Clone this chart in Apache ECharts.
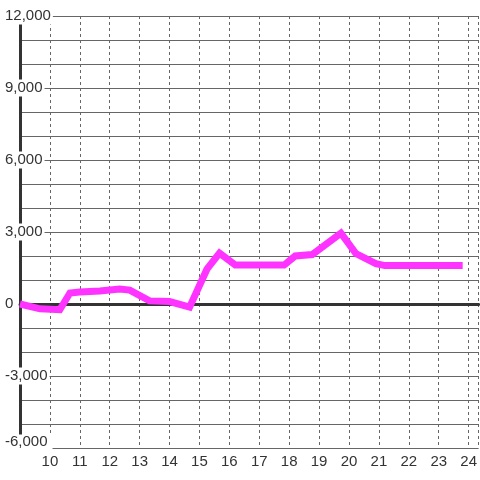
<!DOCTYPE html>
<html>
<head>
<meta charset="utf-8">
<script src="https://cdn.jsdelivr.net/npm/echarts@6/dist/echarts.min.js"></script>
<style>
html,body{margin:0;padding:0;background:#fff;}
#c{width:480px;height:480px;}
</style>
</head>
<body>
<div id="c"></div>
<script>
// Data (x = hour of day, y = value)
var times  = [9.0, 9.67, 10.33, 10.67, 11.0, 11.67, 12.33, 12.67, 13.33, 14.0, 14.67, 15.25, 15.67, 16.2, 17.83, 18.2, 18.77, 19.73, 20.23, 20.9, 21.2, 23.8];
var values = [0, -200, -240, 460, 500, 540, 620, 580, 130, 100, -130, 1450, 2120, 1620, 1620, 2000, 2060, 2950, 2100, 1680, 1600, 1600];
var xTickLabels = [10, 11, 12, 13, 14, 15, 16, 17, 18, 19, 20, 21, 22, 23, 24];
var yTickLabels = [-6000, -3000, 0, 3000, 6000, 9000, 12000];

var seriesData = times.map(function (t, i) { return [t, values[i]]; });
var FONT = 'Liberation Sans, Arial, sans-serif';

var chart = echarts.init(document.getElementById('c'), null, {renderer: 'canvas'});
chart.setOption({
  animation: false,
  backgroundColor: '#ffffff',
  grid: {left: 20, right: 0, top: 16, bottom: 32, containLabel: false},
  xAxis: [{
    type: 'value',
    min: 9,
    max: 9 + 460 / 30,
    interval: 1,
    axisLine: {show: false, onZero: false},
    axisTick: {show: false},
    axisLabel: {
      color: '#333', fontSize: 15, fontFamily: FONT, margin: 6,
      showMaxLabel: false,
      formatter: function (v) {
        return xTickLabels.indexOf(Math.round(v * 1000) / 1000) >= 0 ? String(v) : '';
      }
    },
    splitLine: {show: true, lineStyle: {color: '#666', width: 1, type: [3, 3]}}
  }, {
    type: 'value',
    position: 'top',
    min: 9,
    max: 9 + 460 / 30,
    interval: 1,
    axisLine: {show: true, onZero: true, onZeroAxisIndex: 0, lineStyle: {color: '#333', width: 3}},
    axisTick: {show: false},
    axisLabel: {show: false},
    splitLine: {show: false}
  }],
  yAxis: {
    type: 'value',
    position: 'left',
    min: -6000,
    max: 12000,
    interval: 1000,
    axisLine: {show: true, onZero: false, lineStyle: {color: '#333', width: 3}},
    axisTick: {show: false},
    splitLine: {show: true, lineStyle: {color: '#666', width: 1}},
    axisLabel: {
      align: 'left',
      margin: 17,
      color: '#333', fontSize: 15, fontFamily: FONT,
      formatter: function (v) {
        if (yTickLabels.indexOf(v) < 0) return '';
        var s = v.toLocaleString('en-US');
        return v === -6000 ? '{low|' + s + '}' : '{a|' + s + '}';
      },
      rich: {
        a: {backgroundColor: '#fff', padding: [1, 2, 1, 2], color: '#333', fontSize: 15, fontFamily: FONT, lineHeight: 15},
        low: {backgroundColor: '#fff', padding: [0, 5, 12, 2], color: '#333', fontSize: 15, fontFamily: FONT, lineHeight: 15}
      }
    }
  },
  series: [{
    type: 'line',
    xAxisIndex: 0,
    data: seriesData,
    symbol: 'none',
    lineStyle: {color: '#ff33ff', width: 7, cap: 'butt', join: 'miter'},
    z: 5
  }]
});
</script>
</body>
</html>
